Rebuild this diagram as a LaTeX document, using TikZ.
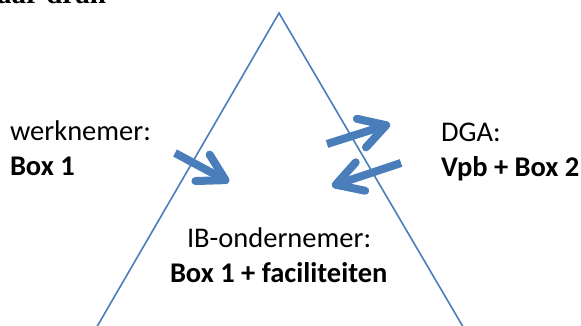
\documentclass[tikz,border=0pt]{standalone}
\usepackage{fontspec}
\setmainfont{Carlito}
\newfontfamily\headserif{Liberation Serif}
\usetikzlibrary{arrows.meta}
\definecolor{lineblue}{RGB}{74,126,187}
\tikzset{
  triline/.style={draw=lineblue, line width=1.6pt},
  fatarrow/.style={draw=lineblue, line width=8pt, line cap=butt,
    -{Straight Barb[round, length=26pt, width=30pt]}},
  lbl/.style={anchor=base west, inner sep=0pt, outer sep=0pt, text=black,
    font=\fontsize{28.5}{34}\selectfont},
  lblb/.style={lbl, font=\fontsize{28.5}{34}\selectfont\bfseries},
}
\begin{document}
\begin{tikzpicture}[x=1pt,y=-1pt]
\useasboundingbox (0,0) rectangle (581,325);
\clip (0,0) rectangle (581,325);
% clipped heading remnant at the top
\node[anchor=base west, inner sep=0pt, font=\headserif\bfseries\fontsize{29}{34}\selectfont] (head) at (-3,3.5) {aar dran};
% arrows
\coordinate (a1tail) at (175,153);
\coordinate (a1tip) at (229,182);
\coordinate (a2tail) at (327,144);
\coordinate (a2tip) at (390,124);
\coordinate (a3tail) at (401,163);
\coordinate (a3tip) at (332,186);
\draw[fatarrow] (a1tail) -- (a1tip);
\draw[fatarrow] (a2tail) -- (a2tip);
\draw[fatarrow] (a3tail) -- (a3tip);
% triangle
\coordinate (apex) at (279,13);
\coordinate (bl) at (91,337);
\coordinate (br) at (469,337);
\draw[triline] (bl) -- (apex) -- (br);
% labels
\node[lbl] (w1) at (10,140) {werknemer:};
\node[lblb] (w2) at (10,175) {Box 1};
\node[lbl] (d1) at (441,141) {DGA:};
\node[lblb] (d2) at (441,176) {Vpb + Box 2};
\node[lbl] (i1) at (187,247) {IB-ondernemer:};
\node[lblb] (i2) at (170,282) {Box 1 + faciliteiten};
\end{tikzpicture}
\end{document}
